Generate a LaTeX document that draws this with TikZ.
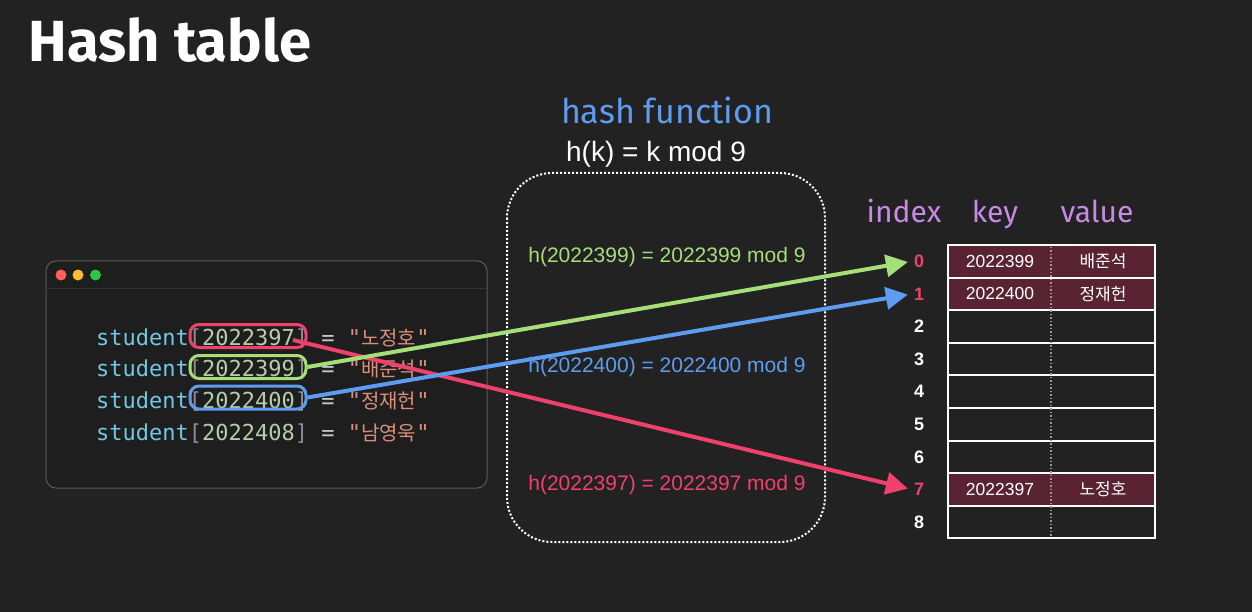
\documentclass[tikz,border=0pt]{standalone}
\usepackage{fontspec}
\setmainfont{Liberation Sans}
\newfontfamily\hand{Fira Sans}
\newfontfamily\codefont{DejaVu Sans Mono}
\newfontfamily\kr{Noto Sans CJK KR}
\usetikzlibrary{arrows.meta,calc}
\definecolor{bg}{HTML}{222222}
\definecolor{winbg}{HTML}{1E1E1E}
\definecolor{winborder}{HTML}{5A5A5A}
\definecolor{hgreen}{HTML}{A6DE78}
\definecolor{hblue}{HTML}{5E9CF2}
\definecolor{hred}{HTML}{F0406C}
\definecolor{hpurple}{HTML}{C889E6}
\definecolor{ccyan}{HTML}{74C7E2}
\definecolor{cnum}{HTML}{B5CEA8}
\definecolor{cbr}{HTML}{8C8C8C}
\definecolor{ceq}{HTML}{C8C8C8}
\definecolor{cstr}{HTML}{D9907A}
\definecolor{maroon}{HTML}{5A2332}
\definecolor{dotred}{HTML}{FF5F57}
\definecolor{dotyel}{HTML}{FEBC2E}
\definecolor{dotgrn}{HTML}{28C840}
\newcommand\mycodeline[2]{{\codefont\fontsize{22}{24}\selectfont\textcolor{ccyan}{student}\textcolor{cbr}{[}\textcolor{cnum}{#1}\textcolor{cbr}{]} \textcolor{ceq}{=} \textcolor{cstr}{"{\kr\fontsize{20}{24}\selectfont #2}"}}}
\tikzset{
  hsize/.style={font=\fontsize{21}{24}\selectfont},
  codetxt/.style={anchor=base west, inner sep=0},
  oval/.style={draw=#1, line width=3, rounded corners=9, minimum width=116, minimum height=23, inner sep=0},
  idx/.style={font=\bfseries\fontsize{18}{20}\selectfont, inner sep=2},
  hdr/.style={text=hpurple, font=\hand\fontsize{30}{32}\selectfont, anchor=base},
  cell/.style={text=white, font=\fontsize{17.5}{20}\selectfont},
  cellkr/.style={text=white, font=\kr\fontsize{17}{20}\selectfont},
  arr/.style={line width=4, draw=#1, -{Triangle[length=22,width=22]}, shorten >=4},
}
\begin{document}
\begin{tikzpicture}[x=1pt,y=-1pt]
\fill[bg] (0,0) rectangle (1252,612);
\useasboundingbox (0,0) rectangle (1252,612);
% title
\node[text=white, font=\hand\bfseries\fontsize{58}{64}\selectfont, anchor=base] (title) at (170,62) {Hash table};
% hash function header
\node[text=hblue, font=\hand\fontsize{34}{36}\selectfont, anchor=base] (hf) at (667,124) {hash function};
\node[text=white, font=\fontsize{28}{30}\selectfont, anchor=base] (hk) at (656,162) {h(k) = k mod 9};
% code window
\draw[draw=winborder, fill=winbg, rounded corners=10, line width=1] (46,261) rectangle (487,488);
\draw[black!80, line width=1] (46,288) -- (487,288);
\fill[dotred] (61,275) circle (5.5);
\fill[dotyel] (78,275) circle (5.5);
\fill[dotgrn] (95.5,275) circle (5.5);
\node[codetxt] (c1) at (96,345) {\mycodeline{2022397}{노정호}};
\node[codetxt] (c2) at (96,376.7) {\mycodeline{2022399}{배준석}};
\node[codetxt] (c3) at (96,408.3) {\mycodeline{2022400}{정재헌}};
\node[codetxt] (c4) at (96,440) {\mycodeline{2022408}{남영욱}};
% highlight ovals
\node[oval=hred] (kred) at (248,336) {};
\node[oval=hgreen] (kgreen) at (248,367) {};
\node[oval=hblue] (kblue) at (248,397.5) {};
% dotted box
\draw[white, dotted, line width=2, rounded corners=45] (507,173) rectangle (825,542);
\node[hsize, text=hgreen] (h1) at (667,257) {h(2022399) = 2022399 mod 9};
\node[hsize, text=hblue] (h2) at (667,367) {h(2022400) = 2022400 mod 9};
\node[hsize, text=hred] (h3) at (667,485) {h(2022397) = 2022397 mod 9};
% table headers
\node[hdr] (hidx) at (904,223) {index};
\node[hdr] (hkey) at (995,223) {key};
\node[hdr] (hval) at (1097,223) {value};
% table rows
\foreach \i in {0,...,8} {
  \pgfmathsetmacro\ya{245+32.6*\i}
  \pgfmathsetmacro\yb{245+32.6*(\i+1)}
  \draw[white, line width=2] (948,\ya) rectangle (1155,\yb);
}
\foreach \i in {0,1,7} {
  \pgfmathsetmacro\ya{245+32.6*\i}
  \pgfmathsetmacro\yb{245+32.6*(\i+1)}
  \draw[white, fill=maroon, line width=2] (948,\ya) rectangle (1155,\yb);
}
\draw[gray!80, dotted, line width=1.5] (1051,247) -- (1051,537);
% index numbers
\foreach \i/\c in {0/hred,1/hred,2/white,3/white,4/white,5/white,6/white,7/hred,8/white} {
  \pgfmathsetmacro\yc{245+16.3+32.6*\i}
  \node[idx, text=\c] (i\i) at (919,\yc) {\i};
}
% cell texts
\node[cell] (k0) at (1000,261.3) {2022399};
\node[cellkr] (v0) at (1103,261.3) {배준석};
\node[cell] (k1) at (1000,293.9) {2022400};
\node[cellkr] (v1) at (1103,293.9) {정재헌};
\node[cell] (k7) at (1000,489.5) {2022397};
\node[cellkr] (v7) at (1103,489.5) {노정호};
% arrows
\coordinate (rs) at (293,340);
\draw[arr=hred] (rs) -- (i7.west);
\draw[arr=hgreen] (kgreen.east) -- (i0.west);
\draw[arr=hblue] (kblue.east) -- (i1.west);
\end{tikzpicture}
\end{document}
